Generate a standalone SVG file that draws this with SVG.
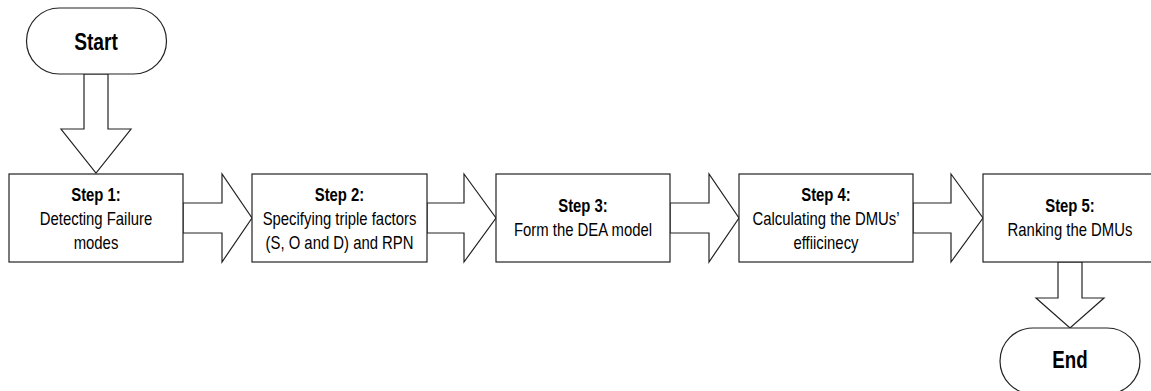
<svg xmlns="http://www.w3.org/2000/svg" width="1151" height="391" viewBox="0 0 1151 391">
<style>
.box{fill:#fff;stroke:#222;stroke-width:1.2}
.arr{fill:#fff;stroke:#222;stroke-width:1.2;stroke-linejoin:miter}
text{font-family:"Liberation Sans",Arial,sans-serif;fill:#000;text-anchor:middle}
.b{font-weight:bold;font-size:17.5px}
.r{font-size:17.5px}
.t{font-weight:bold;font-size:24px}
</style>
<rect width="1151" height="391" fill="#fff"/>
<g id="connectors">
<polygon class="arr" points="84,74 108,74 108,129 131,129 96,173 61,129 84,129"/>
<polygon class="arr" points="183,203 222,203 222,174 252,218 222,262 222,233 183,233"/>
<polygon class="arr" points="427,203 464,203 464,174 496,218 464,262 464,233 427,233"/>
<polygon class="arr" points="670,203 709,203 709,174 739,218 709,262 709,233 670,233"/>
<polygon class="arr" points="913,203 951,203 951,174 983,218 951,262 951,233 913,233"/>
<polygon class="arr" points="1058,262 1082,262 1082,298 1104,298 1070,328 1036,298 1058,298"/>
</g>
<g id="start">
<rect class="box" x="26.5" y="8" width="140" height="66" rx="33" ry="33"/>
<text class="t" transform="translate(96,50) scale(0.8,1)">Start</text>
</g>
<g id="step1">
<rect class="box" x="9" y="174" width="174" height="88"/>
<text class="b" transform="translate(96,201) scale(0.85,1)">Step 1:</text>
<text class="r" transform="translate(96,225) scale(0.85,1)">Detecting Failure</text>
<text class="r" transform="translate(96,249) scale(0.85,1)">modes</text>
</g>
<g id="step2">
<rect class="box" x="252" y="174" width="175" height="88"/>
<text class="b" transform="translate(339.5,201) scale(0.85,1)">Step 2:</text>
<text class="r" transform="translate(339.5,225) scale(0.85,1)">Specifying triple factors</text>
<text class="r" transform="translate(339.5,249) scale(0.85,1)">(S, O and D) and RPN</text>
</g>
<g id="step3">
<rect class="box" x="496" y="174" width="174" height="88"/>
<text class="b" transform="translate(583,212) scale(0.85,1)">Step 3:</text>
<text class="r" transform="translate(583,236) scale(0.85,1)">Form the DEA model</text>
</g>
<g id="step4">
<rect class="box" x="739" y="174" width="174" height="88"/>
<text class="b" transform="translate(826,201) scale(0.85,1)">Step 4:</text>
<text class="r" transform="translate(826,225) scale(0.85,1)">Calculating the DMUs’</text>
<text class="r" transform="translate(826,249) scale(0.85,1)">effiicinecy</text>
</g>
<g id="step5">
<rect class="box" x="983" y="174" width="174" height="88"/>
<text class="b" transform="translate(1070,212) scale(0.85,1)">Step 5:</text>
<text class="r" transform="translate(1070,236) scale(0.85,1)">Ranking the DMUs</text>
</g>
<g id="end">
<rect class="box" x="1000" y="328" width="140" height="66" rx="33" ry="33"/>
<text class="t" transform="translate(1070,368) scale(0.78,1)">End</text>
</g>
</svg>
